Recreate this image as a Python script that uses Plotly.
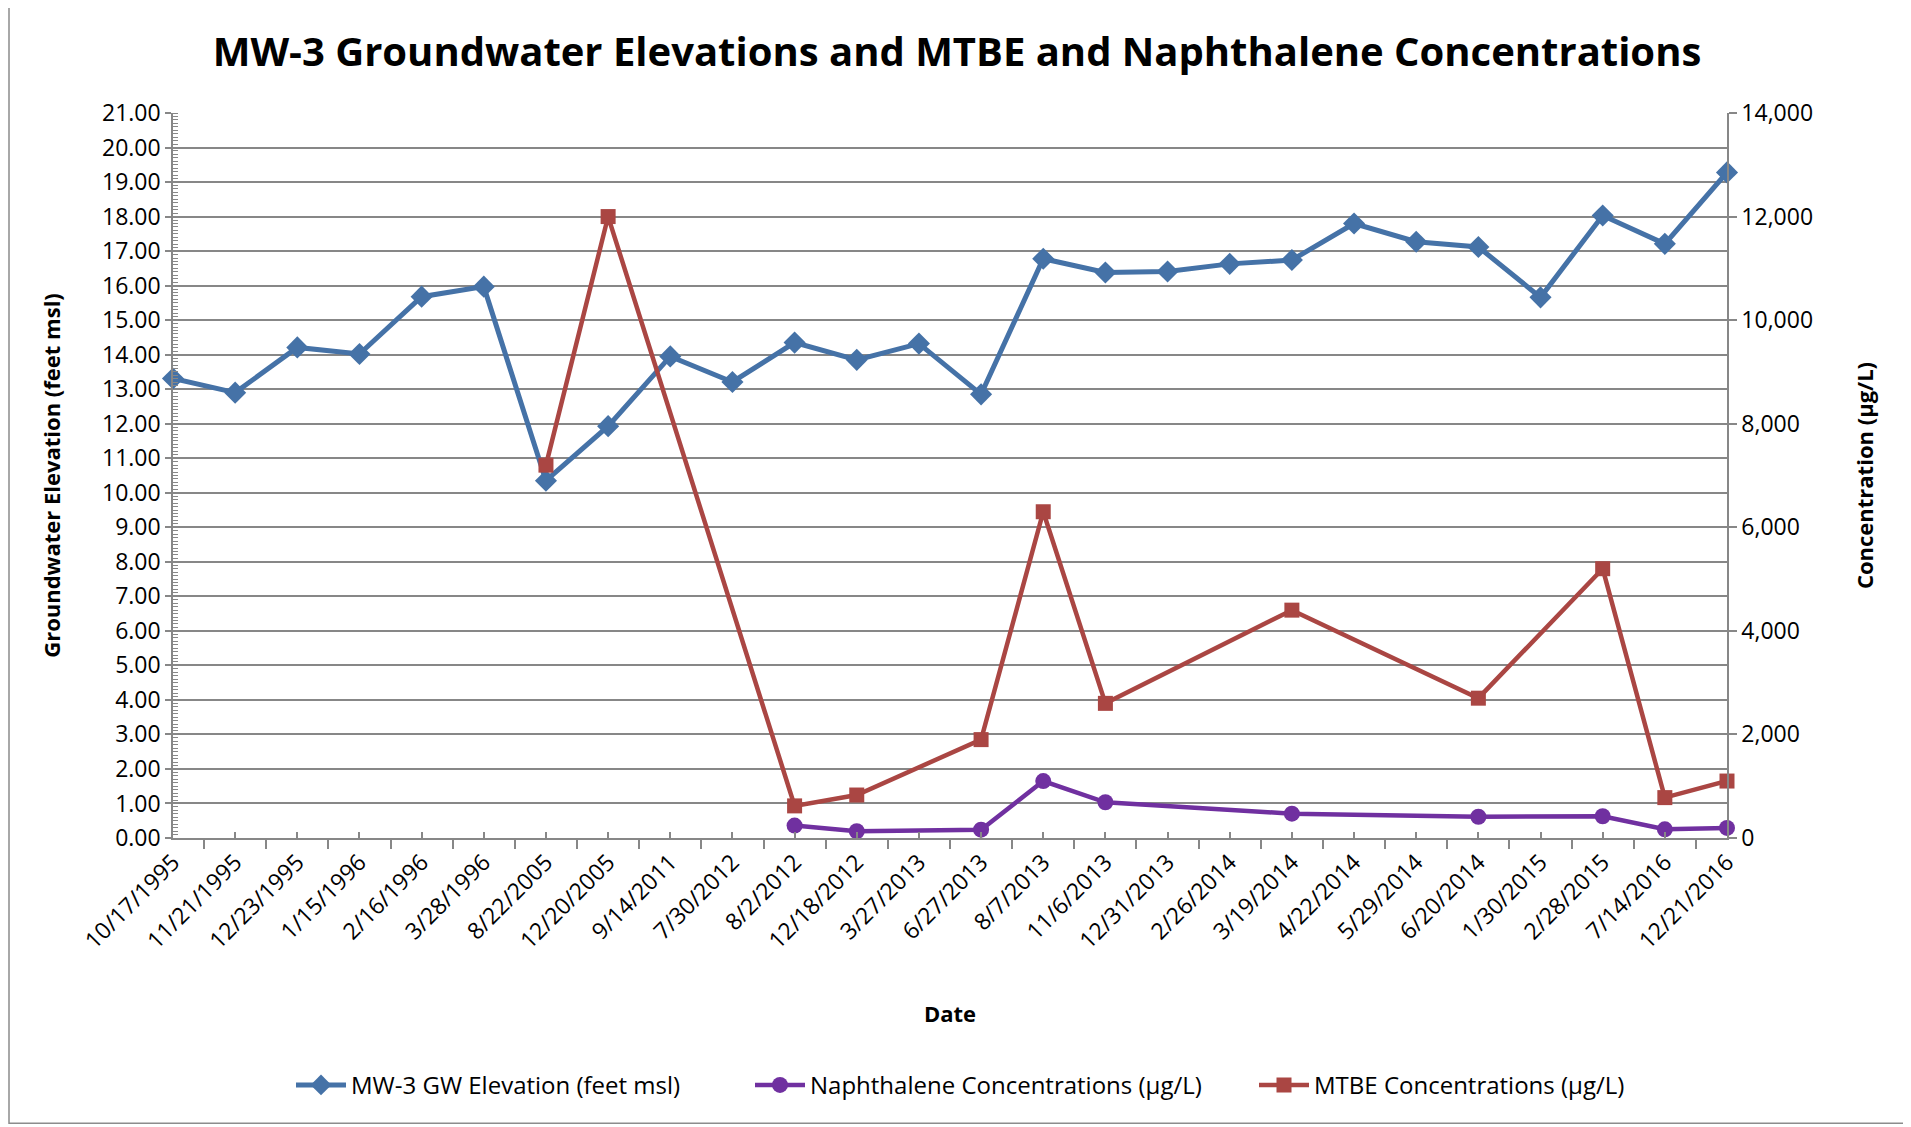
import plotly.graph_objects as go

# sample dates (category axis, evenly spaced like the Excel chart)
dates = [
    "10/17/1995", "11/21/1995", "12/23/1995", "1/15/1996", "2/16/1996",
    "3/28/1996", "8/22/2005", "12/20/2005", "9/14/2011", "7/30/2012",
    "8/2/2012", "12/18/2012", "3/27/2013", "6/27/2013", "8/7/2013",
    "11/6/2013", "12/31/2013", "2/26/2014", "3/19/2014", "4/22/2014",
    "5/29/2014", "6/20/2014", "1/30/2015", "2/28/2015", "7/14/2016",
    "12/21/2016",
]

gw_elevation = [
    13.31, 12.90, 14.21, 14.02, 15.68, 15.97, 10.35, 11.93, 13.95, 13.21,
    14.35, 13.85, 14.32, 12.85, 16.78, 16.38, 16.41, 16.63, 16.74, 17.80,
    17.27, 17.12, 15.66, 18.03, 17.21, 19.28,
]

mtbe = [
    None, None, None, None, None, None, 7200, 12000, None, None,
    620, 830, None, 1900, 6300, 2600, None, None, 4400, None,
    None, 2700, None, 5200, 780, 1100,
]

naphthalene = [
    None, None, None, None, None, None, None, None, None, None,
    240, 130, None, 160, 1100, 690, None, None, 470, None,
    None, 410, None, 420, 168, 195,
]

# the page body has an 8px margin, so the figure is shifted by 8px
OFF = 8
W, H = 1911 - OFF, 1127 - OFF
L, R, T, B = 173 - OFF, 1727 - OFF, 113 - OFF, 838.5 - OFF
PW, PH = R - L, B - T
FONT = "Open Sans"
GRID = "#878787"

x = list(range(len(dates)))

fig = go.Figure()

fig.add_trace(go.Scatter(
    x=x, y=gw_elevation, name="MW-3 GW Elevation (feet msl)",
    mode="lines+markers", cliponaxis=False, legendwidth=394,
    line=dict(color="#4572A7", width=5),
    marker=dict(symbol="diamond", size=17, color="#4572A7"),
))
fig.add_trace(go.Scatter(
    x=x, y=naphthalene, name="Naphthalene Concentrations (µg/L)", yaxis="y2",
    mode="lines+markers", connectgaps=True, cliponaxis=False, legendwidth=439,
    line=dict(color="#7030A0", width=4.5),
    marker=dict(symbol="circle", size=16, color="#7030A0"),
))
fig.add_trace(go.Scatter(
    x=x, y=mtbe, name="MTBE Concentrations (µg/L)", yaxis="y2",
    mode="lines+markers", connectgaps=True, cliponaxis=False,
    line=dict(color="#AA4643", width=4.5),
    marker=dict(symbol="square", size=15, color="#AA4643"),
))

# chart outer border
fig.add_shape(
    type="rect", xref="paper", yref="paper", layer="below",
    x0=(1 - L) / PW, x1=(W + 5 - L) / PW,
    y0=(B - (H - 3)) / PH, y1=(B + 5) / PH,
    line=dict(color="#8c8c8c", width=1.5),
)

fig.update_layout(
    width=W, height=H,
    margin=dict(l=L, r=W - R, t=T, b=H - B),
    paper_bgcolor="white", plot_bgcolor="white",
    font=dict(family=FONT, color="black"),
    title=dict(
        text="<b>MW-3 Groundwater Elevations and MTBE and Naphthalene Concentrations</b>",
        x=949 / W, xanchor="center", y=1 - 44 / H, yanchor="middle",
        font=dict(size=40, family=FONT, color="black"),
    ),
    xaxis=dict(
        range=[0, len(dates) - 1],
        tickvals=x, ticktext=dates, tickangle=-45,
        tickfont=dict(size=23),
        ticks="inside", ticklen=6, tickcolor=GRID, tickwidth=1.5,
        minor=dict(tick0=0.5, dtick=1, ticks="outside", ticklen=9,
                   tickcolor=GRID, tickwidth=1.5),
        showline=True, linecolor=GRID, linewidth=1.5,
        showgrid=False, zeroline=False,
        title=dict(text="<b>Date</b>", font=dict(size=22), standoff=52),
    ),
    yaxis=dict(
        range=[0, 21], dtick=1, tickformat=".2f",
        tickfont=dict(size=23),
        ticks="outside", ticklen=6, tickcolor=GRID, tickwidth=1.5,
        minor=dict(dtick=0.1, ticks="inside", ticklen=5, tickcolor=GRID,
                   tickwidth=1, showgrid=False),
        showline=True, linecolor=GRID, linewidth=1.5,
        showgrid=True, gridcolor=GRID, gridwidth=1.5, zeroline=False,
        title=dict(text="<b>Groundwater Elevation (feet msl)</b>",
                   font=dict(size=22), standoff=35),
    ),
    yaxis2=dict(
        overlaying="y", side="right",
        range=[0, 14000], dtick=2000, tickformat=",",
        tickfont=dict(size=23),
        ticks="outside", ticklen=8, tickcolor=GRID, tickwidth=1.5,
        showline=True, linecolor=GRID, linewidth=1.5,
        showgrid=False, zeroline=False,
        title=dict(text="<b>Concentration (µg/L)</b>",
                   font=dict(size=22), standoff=46),
    ),
    legend=dict(
        orientation="h", x=(299 - OFF - 8 - L) / PW, xanchor="left",
        y=(B - (1086 - OFF)) / PH, yanchor="middle",
        font=dict(size=24), itemwidth=50, bgcolor="rgba(0,0,0,0)",
    ),
    showlegend=True,
)

fig.write_html("out.html")
